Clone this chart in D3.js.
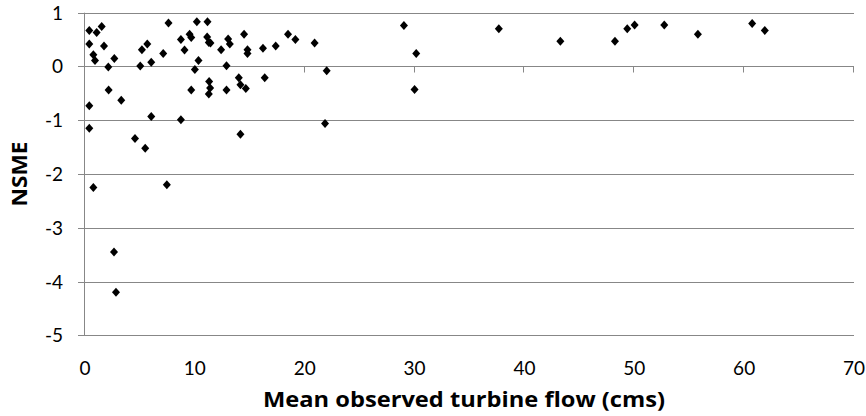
<!DOCTYPE html>
<html>
<head>
<meta charset="utf-8">
<title>NSME vs turbine flow</title>
<script src="https://d3js.org/d3.v7.min.js"></script>
<style>
  body { margin: 0; background: #fff; }
  text { font-family: Lato, 'Open Sans', sans-serif; fill: #000; }
  text.title { font-family: 'Open Sans', Lato, sans-serif; font-weight: bold; }
</style>
</head>
<body>
<script>
// mean observed turbine flow (cms) and NSME
var flow = [0.39, 1.06, 1.52, 0.39, 1.73, 0.76, 0.91, 2.67, 2.12, 7.6,
            5.18, 5.67, 5.03, 6.03, 7.12, 8.73, 9.52, 9.67, 9.06, 10.18,
            11.15, 11.12, 11.27, 11.42, 10.33, 10.0, 12.39, 13.03, 13.18, 12.88,
            14.48, 14.79, 14.79, 2.15, 3.3, 0.39, 6.03, 8.73, 9.67, 11.3,
            11.39, 11.27, 12.88, 14.0, 14.15, 14.64, 0.39, 4.55, 14.15, 5.48,
            0.76, 7.45, 2.64, 2.82, 16.2, 17.36, 18.48, 19.15, 20.9, 29.03,
            30.15, 22.0, 16.36, 30.0, 21.85, 37.67, 43.27, 48.24, 49.36, 50.03,
            52.73, 55.79, 60.73, 61.88]
var nsme = [0.67, 0.63, 0.745, 0.417, 0.38, 0.218, 0.11, 0.15, -0.01, 0.81,
            0.31, 0.417, 0.01, 0.08, 0.24, 0.5, 0.6, 0.54, 0.305, 0.83,
            0.83, 0.547, 0.447, 0.435, 0.11, -0.056, 0.31, 0.51, 0.417, 0.013,
            0.6, 0.31, 0.24, -0.44, -0.63, -0.73, -0.93, -0.99, -0.44, -0.28,
            -0.40, -0.51, -0.44, -0.21, -0.34, -0.41, -1.15, -1.34, -1.26, -1.52,
            -2.25, -2.2, -3.45, -4.2, 0.34, 0.38, 0.6, 0.5, 0.435, 0.76,
            0.24, -0.08, -0.21, -0.43, -1.06, 0.70, 0.47, 0.47, 0.70, 0.77,
            0.77, 0.60, 0.80, 0.67]
var xTicks = [0, 10, 20, 30, 40, 50, 60, 70]
var yTicks = [1, 0, -1, -2, -3, -4, -5]

var w = 866
var h = 416
var grey = '#878787'

var svg = d3.select('body').append('svg').attr('width', w).attr('height', h)
svg.append('rect').attr('width', w).attr('height', h).attr('fill', '#fff')

var xScale = d3.scaleLinear().domain([0, 70]).range([85, 854])
var yScale = d3.scaleLinear().domain([-5, 1]).range([335.3, 12.7])

// horizontal gridlines (extend left as tick marks)
svg.selectAll('line.grid')
    .data(yTicks)
    .enter()
    .append('line')
    .attr('class', 'grid')
    .attr('x1', 78)
    .attr('x2', xScale(70))
    .attr('y1', function(d) { return Math.round(yScale(d)) + 0.5 })
    .attr('y2', function(d) { return Math.round(yScale(d)) + 0.5 })
    .attr('stroke', grey)
    .attr('stroke-width', 1)

// vertical axis line
svg.append('line')
    .attr('x1', 84.5).attr('x2', 84.5)
    .attr('y1', yScale(1)).attr('y2', yScale(-5))
    .attr('stroke', grey)

// x ticks hang below the zero line
var zeroY = Math.round(yScale(0)) + 0.5
svg.selectAll('line.xtick')
    .data(xTicks.slice(1))
    .enter()
    .append('line')
    .attr('class', 'xtick')
    .attr('x1', function(d) { return Math.round(xScale(d)) - 0.5 })
    .attr('x2', function(d) { return Math.round(xScale(d)) - 0.5 })
    .attr('y1', zeroY)
    .attr('y2', zeroY + 6)
    .attr('stroke', grey)

// tick labels
svg.selectAll('text.ylab')
    .data(yTicks)
    .enter()
    .append('text')
    .attr('class', 'ylab')
    .text(function(d) { return d })
    .attr('x', 63)
    .attr('y', function(d) { return yScale(d) + 7 })
    .attr('text-anchor', 'end')
    .attr('font-size', '19px')

svg.selectAll('text.xlab')
    .data(xTicks)
    .enter()
    .append('text')
    .attr('class', 'xlab')
    .text(function(d) { return d })
    .attr('x', function(d) { return xScale(d) })
    .attr('y', 374.5)
    .attr('text-anchor', 'middle')
    .attr('font-size', '19px')

// axis titles
svg.append('text')
    .attr('class', 'title')
    .text('Mean observed turbine flow (cms)')
    .attr('x', 464)
    .attr('y', 407)
    .attr('text-anchor', 'middle')
    .attr('font-size', '21.5px')
    .attr('textLength', 402)
    .attr('lengthAdjust', 'spacingAndGlyphs')

svg.append('text')
    .attr('class', 'title')
    .text('NSME')
    .attr('transform', 'translate(26.5,174) rotate(-90)')
    .attr('text-anchor', 'middle')
    .attr('font-size', '21px')
    .attr('textLength', 65)
    .attr('lengthAdjust', 'spacingAndGlyphs')

// diamond markers
var points = flow.map(function(f, i) { return [f, nsme[i]] })
svg.selectAll('path.pt')
    .data(points)
    .enter()
    .append('path')
    .attr('class', 'pt')
    .attr('d', function(d) {
        var x = xScale(d[0]), y = yScale(d[1])
        return 'M' + x + ',' + (y - 4.5) + 'L' + (x + 4) + ',' + y +
               'L' + x + ',' + (y + 4.5) + 'L' + (x - 4) + ',' + y + 'Z'
    })
    .attr('fill', '#000')
</script>
</body>
</html>
